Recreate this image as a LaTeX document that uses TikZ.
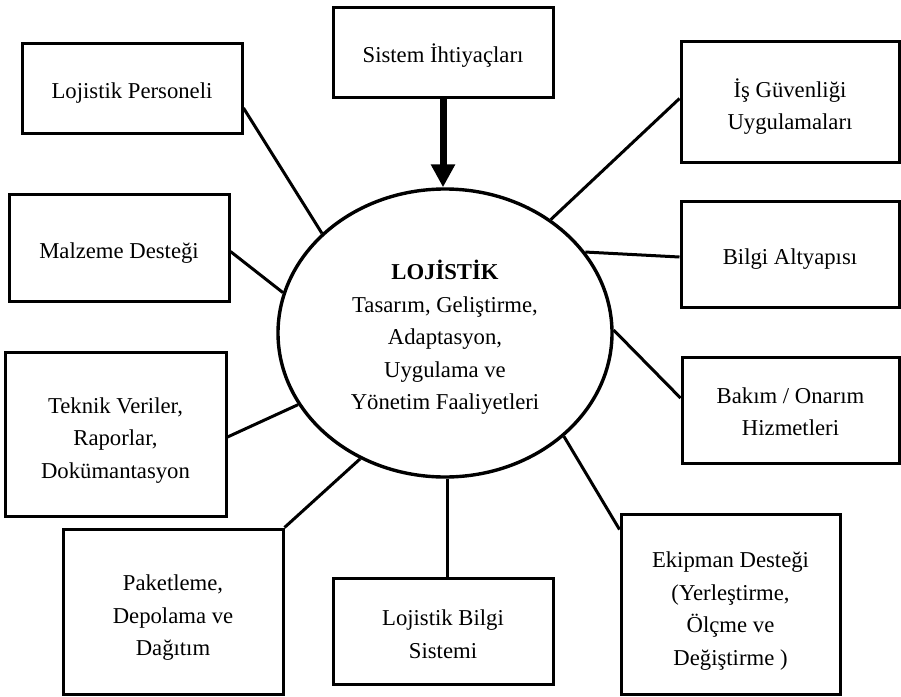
\documentclass[tikz,border=0pt]{standalone}
\usepackage{fontspec}
\setmainfont{Liberation Serif}
\usetikzlibrary{shapes.geometric,arrows.meta}

\tikzset{
  % an invisible rule taller than the text block lets the text sit a little low
  txt/.style={font=\fontsize{22.7}{32.5}\selectfont, align=center,
              execute at begin node={\rule{0pt}{#1}}},
  txt/.default=26pt,
  box/.style={txt=#1, draw, line width=3pt, inner sep=0pt, rectangle},
  box/.default=26pt,
  link/.style={line width=3pt},
  hub/.style={txt=158pt, draw, ellipse, line width=3.4pt, inner sep=0pt,
              minimum width=334pt, minimum height=288pt}
}

\begin{document}
\begin{tikzpicture}[x=1pt, y=-1pt]
  \useasboundingbox (0,0) rectangle (901,696);

  % central activity ellipse
  \node[hub] (c) at (445,333) {\textbf{LOJİSTİK}\\Tasarım, Geliştirme,\\Adaptasyon,\\Uygulama ve\\Yönetim Faaliyetleri};

  % surrounding boxes
  \node[box, minimum width=220pt, minimum height=90pt]  (sis) at (443,52)    {Sistem İhtiyaçları};
  \node[box, minimum width=220pt, minimum height=90pt]  (per) at (132,88)    {Lojistik Personeli};
  \node[box, minimum width=220pt, minimum height=107pt] (mal) at (119,247.5) {Malzeme Desteği};
  \node[box=93pt, minimum width=221pt, minimum height=164pt] (tek) at (115.5,434) {Teknik Veriler,\\Raporlar,\\Dokümantasyon};
  \node[box=93pt, minimum width=220pt, minimum height=165pt] (pak) at (173,611.5) {Paketleme,\\Depolama ve\\Dağıtım};
  \node[box=55pt, minimum width=220pt, minimum height=106pt] (lbs) at (443,631)   {Lojistik Bilgi\\Sistemi};
  \node[box=127pt, minimum width=219pt, minimum height=180pt] (eki) at (730.5,604) {Ekipman Desteği\\(Yerleştirme,\\Ölçme ve\\Değiştirme )};
  \node[box=52pt, minimum width=217pt, minimum height=106pt] (bak) at (790.5,410) {Bakım / Onarım\\Hizmetleri};
  \node[box, minimum width=218pt, minimum height=106pt] (bil) at (790,254)   {Bilgi Altyapısı};
  \node[box=61pt, minimum width=218pt, minimum height=121pt] (isg) at (790,101.5) {İş Güvenliği\\Uygulamaları};

  % input arrow
  \draw[line width=7pt, -{Triangle[width=23pt, length=23pt]}]
    (sis.south) -- (sis.south |- c.north);

  % connectors
  \draw[link] ([yshift=-20pt]per.east) -- (c.141);
  \draw[link] ([yshift=-4pt]mal.east)  -- (c.166);
  \draw[link] ([yshift=-3pt]tek.east)  -- (c.-154);
  \draw[link] (pak.north east)         -- (c.-124);
  \draw[link] (c.-89) -- (c.-89 |- lbs.north);
  \draw[link] ([yshift=-17pt]eki.north west) -- (c.-41);
  \draw[link] ([yshift=12pt]bak.west)  -- (c.1.5);
  \draw[link] ([yshift=-3pt]bil.west)  -- (c.30);
  \draw[link] ([yshift=3pt]isg.west)   -- (c.47);
\end{tikzpicture}
\end{document}
